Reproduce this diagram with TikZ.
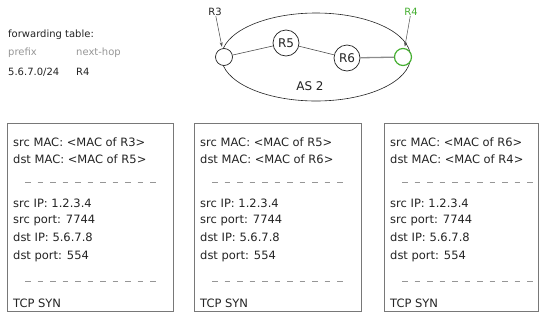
\documentclass[tikz,border=0pt]{standalone}
\usepackage{fontspec}
\setmainfont{DejaVu Sans}
\usetikzlibrary{shapes.geometric,arrows.meta,calc}
\definecolor{ink}{RGB}{35,35,35}
\definecolor{frame}{RGB}{120,120,120}
\definecolor{soft}{RGB}{150,150,150}
\definecolor{linkgray}{RGB}{140,140,140}
\definecolor{rgreen}{RGB}{70,175,50}

% one packet: header fields of the frame as it leaves a router
\newcommand{\packetbox}[5]{%
  % #1 name, #2 left x, #3 width, #4 src MAC, #5 dst MAC
  \node[pkt, minimum width=#3] (#1) at (#2,123) {};
  \node[txt] (#1-smac) at ($(#1.north west)+(6,23.5)$) {src MAC: <MAC of #4>};
  \node[txt] (#1-dmac) at ($(#1.north west)+(6,40.5)$) {dst MAC: <MAC of #5>};
  \draw[sep] ($(#1.north west)+(18,59)$) -- ++(130.5,0);
  \node[txt] (#1-sip)  at ($(#1.north west)+(6,84)$)  {src IP: 1.2.3.4};
  \node[txt] (#1-sport) at ($(#1.north west)+(6,100.5)$) {src port: 7744};
  \node[txt] (#1-dip)  at ($(#1.north west)+(6,118)$) {dst IP: 5.6.7.8};
  \node[txt] (#1-dport) at ($(#1.north west)+(6,136)$) {dst port: 554};
  \draw[sep] ($(#1.north west)+(18,158)$) -- ++(130.5,0);
  \node[txt] (#1-tcp)  at ($(#1.north west)+(6,184)$) {TCP SYN};
}

\begin{document}
\begin{tikzpicture}[x=1pt,y=-1pt,
  txt/.style={anchor=base west, inner sep=0pt, text=ink, font=\fontsize{11.5}{13}\selectfont},
  small/.style={anchor=base west, inner sep=0pt, text=ink, font=\fontsize{10}{12}\selectfont},
  pkt/.style={draw=frame, line width=0.9pt, anchor=north west, minimum height=188, inner sep=0pt},
  sep/.style={draw=soft, line width=0.6pt, dash pattern=on 5.5pt off 7pt},
  router/.style={circle, draw=ink, line width=0.7pt, fill=white, inner sep=0pt, minimum size=26, font=\fontsize{12}{14}\selectfont, text=ink},
  edge/.style={circle, draw=ink, line width=0.7pt, fill=white, inner sep=0pt, minimum size=17},
  link/.style={draw=ink!80, line width=0.6pt},
  pointer/.style={draw=ink!80, line width=0.5pt, -{Stealth[length=4.5pt,width=3pt]}, shorten >=1.5pt}
]
\useasboundingbox (0,0) rectangle (547,322);

% forwarding table
\node[small] (ft) at (8,37) {forwarding table:};
\node[small, text=soft] (fth1) at (8,55) {prefix};
\node[small, text=soft] (fth2) at (76,55) {next-hop};
\node[small] (ftp) at (8,75) {5.6.7.0/24};
\node[small] (ftn) at (76,75) {R4};

% autonomous system 2
\node[ellipse, draw=ink, line width=0.6pt, minimum width=189, minimum height=88, inner sep=0pt] (as2) at (316,57) {};
\node[text=ink, font=\fontsize{12}{14}\selectfont, inner sep=0pt] (as2lbl) at (310,86) {AS 2};

\node[edge] (r3) at (224,57) {};
\node[router] (r5) at (286,43) {R5};
\node[router] (r6) at (347,58) {R6};
\node[edge, draw=rgreen, line width=1.2pt] (r4) at (403,57) {};

\draw[link] (r3) -- (r5);
\draw[link] (r5) -- (r6);
\draw[draw=linkgray, line width=1.3pt] (r6) -- (r4);

\node[small, anchor=center] (r3lbl) at (215,12) {R3};
\node[small, anchor=center, text=rgreen] (r4lbl) at (411,12) {R4};
\draw[pointer] (r3lbl) -- (r3);
\draw[pointer] (r4lbl) -- (r4);

% packets along the path
\packetbox{p1}{7}{166}{R3}{R5}
\packetbox{p2}{194}{167}{R5}{R6}
\packetbox{p3}{384}{154}{R6}{R4}
\end{tikzpicture}
\end{document}
